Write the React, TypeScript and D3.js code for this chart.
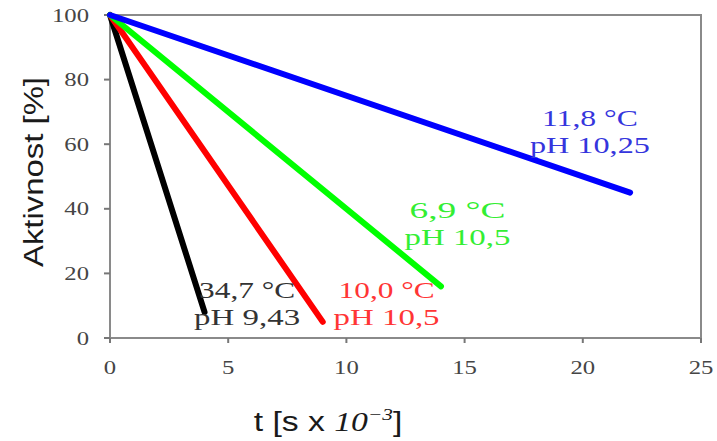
import React from "react";
import * as d3 from "d3";

const seriesNames = ["11,8 °C / pH 10,25", "6,9 °C / pH 10,5", "10,0 °C / pH 10,5", "34,7 °C / pH 9,43"];
const startT = [0, 0, 0, 0];
const startA = [100, 100, 100, 100];
const endT = [22, 14, 9, 4];
const endA = [45, 16, 5, 8];
const lineColors = ["#0000ff", "#00ff00", "#ff0000", "#000000"];
const textColors = ["#3535dd", "#33ee33", "#ff3535", "#333333"];
const labelLine1 = ["11,8 °C", "6,9 °C", "10,0 °C", "34,7 °C"];
const labelLine2 = ["pH 10,25", "pH 10,5", "pH 10,5", "pH 9,43"];
// label anchors in data units (t, activity) for the first line baseline
const labelT = [20.3, 14.7, 11.7, 5.8];
const labelA = [65.5, 37.2, 12.4, 12.4];
const xTicks = [0, 5, 10, 15, 20, 25];
const yTicks = [0, 20, 40, 60, 80, 100];

const W = 717;
const H = 441;
const m = { left: 110, right: 701, top: 15, bottom: 338 };

export default function App() {
  const x = d3.scaleLinear().domain([0, 25]).range([m.left, m.right]);
  const y = d3.scaleLinear().domain([0, 100]).range([m.bottom, m.top]);
  const line = d3
    .line<[number, number]>()
    .x((d) => x(d[0]))
    .y((d) => y(d[1]));
  const serif = "'Liberation Serif', 'Times New Roman', serif";
  const sans = "'Liberation Sans', Arial, sans-serif";
  const order = [3, 2, 1, 0];
  return (
    <div style={{ position: "fixed", left: 0, top: 0 }}>
      <svg width={W} height={H} style={{ display: "block", background: "#fff" }}>
        <rect
          x={m.left}
          y={m.top}
          width={m.right - m.left}
          height={m.bottom - m.top}
          fill="none"
          stroke="#8a8a8a"
          strokeWidth={2}
        />
        {yTicks.map((t) => (
          <g key={"y" + t}>
            <line x1={m.left - 6} x2={m.left} y1={y(t)} y2={y(t)} stroke="#777" strokeWidth={2} />
            <g transform={`translate(89,${y(t) + 6.5}) scale(1.3,1)`}>
              <text textAnchor="end" fontFamily={serif} fontSize={19} fill="#454545">
                {t}
              </text>
            </g>
          </g>
        ))}
        {xTicks.map((t) => (
          <g key={"x" + t}>
            <line x1={x(t)} x2={x(t)} y1={m.bottom} y2={m.bottom + 5} stroke="#777" strokeWidth={2} />
            <g transform={`translate(${x(t)},374) scale(1.3,1)`}>
              <text textAnchor="middle" fontFamily={serif} fontSize={19} fill="#454545">
                {t}
              </text>
            </g>
          </g>
        ))}
        {order.map((i) => (
          <path
            key={seriesNames[i]}
            d={line([
              [startT[i], startA[i]],
              [endT[i], endA[i]],
            ]) || ""}
            stroke={lineColors[i]}
            strokeWidth={6}
            strokeLinecap="round"
            fill="none"
          />
        ))}
        {order.map((i) => (
          <g key={"lab" + i} fontFamily={serif} fontSize={24} fill={textColors[i]} textAnchor="middle">
            <text x={x(labelT[i])} y={y(labelA[i])} textLength={96} lengthAdjust="spacingAndGlyphs">
              {labelLine1[i]}
            </text>
            <text
              x={x(labelT[i])}
              y={y(labelA[i]) + 27}
              textLength={labelLine2[i].length > 7 ? 120 : 106}
              lengthAdjust="spacingAndGlyphs"
            >
              {labelLine2[i]}
            </text>
          </g>
        ))}
        <g transform="translate(43,172) rotate(-90)">
          <text textAnchor="middle" fontFamily={sans} fontSize={27} fill="#1a1a1a" textLength={190} lengthAdjust="spacingAndGlyphs">
            Aktivnost [%]
          </text>
        </g>
        <g transform="translate(328,431) scale(1.25,1)">
          <text textAnchor="middle" fontFamily={sans} fontSize={27} fill="#1a1a1a">
            t [s x <tspan fontStyle="italic" fontFamily={serif}>10</tspan>
            <tspan dy={-11} fontSize={17} fontStyle="italic" fontFamily={serif}>−3</tspan>
            <tspan dy={11}>]</tspan>
          </text>
        </g>
      </svg>
    </div>
  );
}
